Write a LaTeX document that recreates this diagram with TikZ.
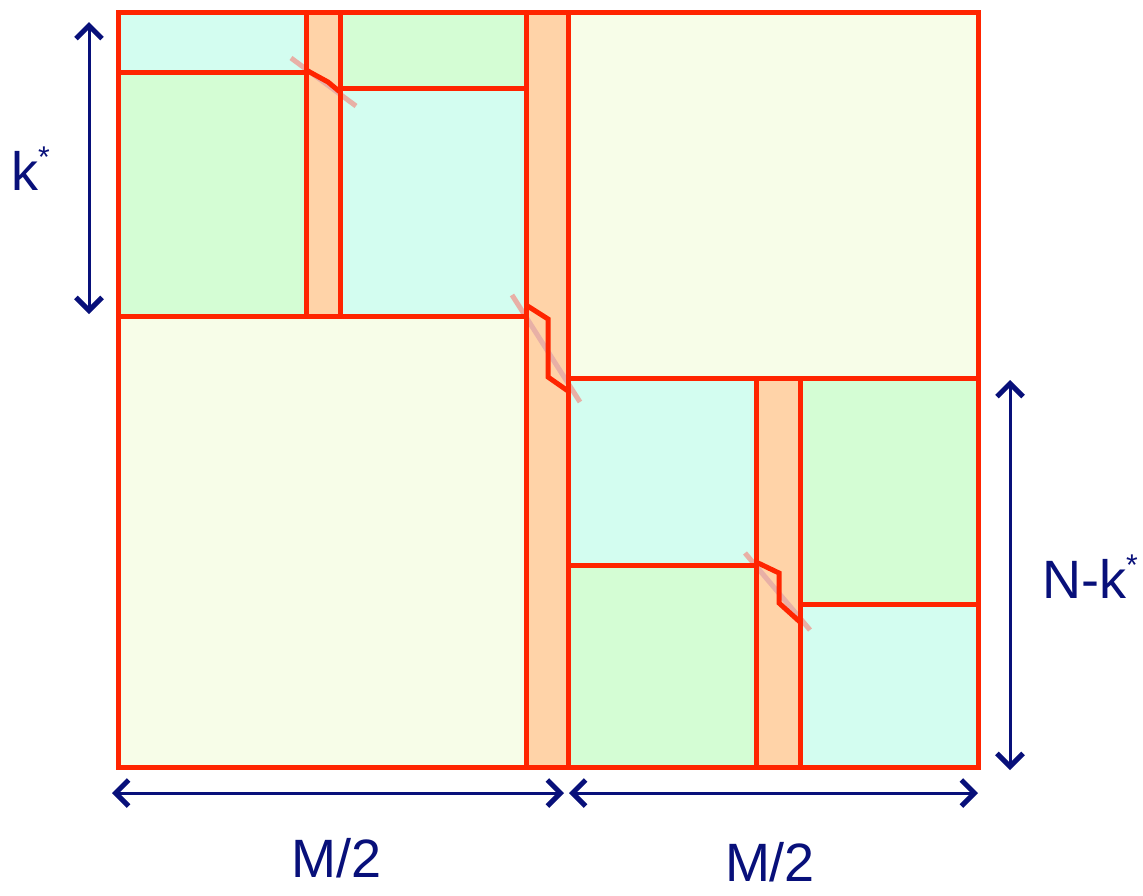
\documentclass[tikz,border=0pt]{standalone}
\usepackage{fontspec}
\setmainfont{Liberation Sans}
\usetikzlibrary{arrows.meta}
\definecolor{rline}{RGB}{255,36,0}
\definecolor{cyanf}{RGB}{211,253,240}
\definecolor{greenf}{RGB}{212,253,212}
\definecolor{yellowf}{RGB}{247,253,232}
\definecolor{orangef}{RGB}{255,211,168}
\definecolor{pinkl}{RGB}{232,176,166}
\definecolor{navy}{RGB}{8,16,122}
\newcommand{\supstar}{\raisebox{0.42em}{\fontsize{30}{30}\selectfont *}}
\tikzset{
  blk/.style={draw=rline, line width=5pt, line join=miter},
  cyanbox/.style={blk, fill=cyanf},
  greenbox/.style={blk, fill=greenf},
  yellowbox/.style={blk, fill=yellowf},
  orangebox/.style={blk, fill=orangef},
  guide/.style={draw=pinkl, line width=5pt},
  stair/.style={draw=rline, line width=5pt, line join=miter},
  dim/.style={draw=navy, line width=3pt, {Straight Barb[length=13pt,width=26pt,line width=5pt]}-{Straight Barb[length=13pt,width=26pt,line width=5pt]}},
  lbl/.style={text=navy, font=\fontsize{54}{60}\selectfont, inner sep=0pt}
}
\begin{document}
\begin{tikzpicture}[x=1pt,y=-1pt]
\useasboundingbox (0,0) rectangle (1143,895);
% big blocks
\path[yellowbox] (118,316) rectangle (526,767);
\path[yellowbox] (568,12) rectangle (978,378);
% top-left block
\path[cyanbox] (118,12) rectangle (306,72);
\path[greenbox] (118,72) rectangle (306,316);
\path[greenbox] (340,12) rectangle (526,88);
\path[cyanbox] (340,88) rectangle (526,316);
% bottom-right block
\path[cyanbox] (568,378) rectangle (756,565);
\path[greenbox] (568,565) rectangle (756,767);
\path[greenbox] (800,378) rectangle (978,604);
\path[cyanbox] (800,604) rectangle (978,767);
% orange columns
\path[fill=orangef] (306,12) rectangle (340,316);
\path[fill=orangef] (526,12) rectangle (568,767);
\path[fill=orangef] (756,378) rectangle (800,767);
% guide lines
\path[guide] (291,58) -- (356,106);
\path[guide] (512,295) -- (580,402);
\path[guide] (745,553) -- (810,630);
% borders on top
\path[blk] (306,12) rectangle (340,316);
\path[blk] (526,12) rectangle (568,767);
\path[blk] (756,378) rectangle (800,767);
\path[blk] (118,316) -- (526,316);
\path[blk] (568,378) -- (978,378);
\path[blk] (118,72) -- (306,72);
\path[blk] (340,88) -- (526,88);
\path[blk] (568,565) -- (756,565);
\path[blk] (800,604) -- (978,604);
\path[blk] (118,12) rectangle (978,767);
% staircase paths
\path[stair] (306,70) -- (328,82) -- (340,92);
\path[stair] (526,305) -- (548,319) -- (548,377) -- (568,391);
\path[stair] (756,562) -- (779,573) -- (779,603) -- (800,622);
% dimension arrows
\coordinate (kT) at (89,22);
\coordinate (kB) at (89,314);
\coordinate (nT) at (1010,380);
\coordinate (nB) at (1010,770);
\coordinate (m1L) at (112,793);
\coordinate (m1R) at (564,793);
\coordinate (m2L) at (569,793);
\coordinate (m2R) at (978,793);
\draw[dim] (kT) -- (kB);
\draw[dim] (nT) -- (nB);
\draw[dim] (m1L) -- (m1R);
\draw[dim] (m2L) -- (m2R);
% labels
\node[lbl, anchor=base west] (lk) at (11,190) {k\supstar};
\node[lbl, anchor=base west] (lnk) at (1042,598) {N-k\supstar};
\node[lbl] (lm1) at (337,858) {M/2};
\node[lbl] (lm2) at (770,862) {M/2};
\end{tikzpicture}
\end{document}
